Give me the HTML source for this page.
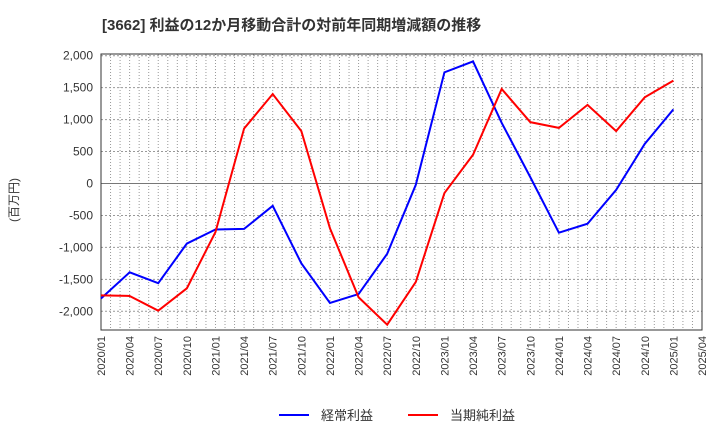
<!DOCTYPE html>
<html><head><meta charset="utf-8"><style>
body{margin:0;background:#fff;font-family:"Liberation Sans","Noto Sans CJK JP",sans-serif}
</style></head><body>
<svg width="720" height="440" xmlns="http://www.w3.org/2000/svg" id="c" font-family="Liberation Sans, Noto Sans CJK JP, sans-serif">
<text x="102" y="30" font-size="15" font-weight="bold" fill="#333">[3662]  利益の12か月移動合計の対前年同期増減額の推移</text>
<text transform="translate(18,200) rotate(-90)" font-size="12" fill="#333" text-anchor="middle">(百万円)</text>
<g id="grid"></g><g id="axes"></g><g id="series"></g>
<g>
<line x1="279" y1="415" x2="309" y2="415" stroke="#0000ff" stroke-width="2"/>
<text x="321" y="420" font-size="13" fill="#333">経常利益</text>
<line x1="408" y1="415" x2="438" y2="415" stroke="#ff0000" stroke-width="2"/>
<text x="450" y="420" font-size="13" fill="#333">当期純利益</text>
</g>
</svg>
<script>
const xLabels=["2020/01","2020/04","2020/07","2020/10","2021/01","2021/04","2021/07","2021/10","2022/01","2022/04","2022/07","2022/10","2023/01","2023/04","2023/07","2023/10","2024/01","2024/04","2024/07","2024/10","2025/01","2025/04"];
const yTicks=[2000,1500,1000,500,0,-500,-1000,-1500,-2000];
const keijo=[-1800,-1390,-1560,-940,-720,-710,-350,-1250,-1870,-1730,-1100,-20,1740,1910,950,100,-770,-630,-100,620,1160];
const junri=[-1750,-1760,-1990,-1640,-760,860,1400,820,-700,-1780,-2210,-1540,-150,450,1480,960,870,1230,820,1350,1610];
const L=101,R=702,T=54,B=330;
const xs=i=>L+i*(R-L)/21;
const ys=v=>183.5-v*0.0639;
const NS="http://www.w3.org/2000/svg";
function mk(t,a,p){const e=document.createElementNS(NS,t);for(const k in a)e.setAttribute(k,a[k]);p.appendChild(e);return e;}
const g=document.getElementById('grid'),ax=document.getElementById('axes'),s=document.getElementById('series');
for(let m=1;m<63;m++){const x=L+m*(R-L)/63;const l=mk('line',{x1:x,x2:x,y1:T,y2:B,stroke:'#999','stroke-dasharray':'1,2'},g);

}
yTicks.forEach(v=>{const y=ys(v);const l=mk('line',{x1:L,x2:R,y1:y,y2:y,stroke:v===0?'#777':'#999','stroke-dasharray':v===0?'none':'2,2'},g);


const t=mk('text',{x:L-8,y:y+4,'font-size':12,fill:'#333','text-anchor':'end'},ax);t.textContent=v.toLocaleString('en-US');

});
const fr=mk('rect',{x:L,y:T,width:R-L,height:B-T,fill:'none',stroke:'#333'},ax);


xLabels.forEach((lab,i)=>{const x=xs(i);const t=mk('text',{transform:`translate(${x+4},${B+6}) rotate(-90)`,'font-size':11,fill:'#333','text-anchor':'end'},ax);t.textContent=lab;

});
[[keijo,'#0000ff','keijo-line'],[junri,'#ff0000','junri-line']].forEach(([d,c,n])=>{const p=mk('polyline',{points:d.map((v,i)=>xs(i)+','+ys(v)).join(' '),fill:'none',stroke:c,'stroke-width':2},s);

});
</script>
</body></html>
